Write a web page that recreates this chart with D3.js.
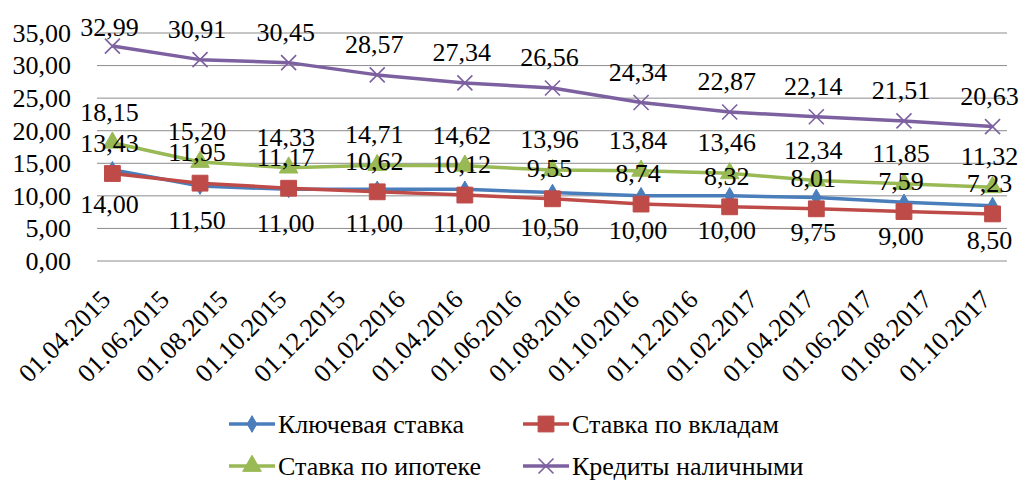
<!DOCTYPE html>
<html>
<head>
<meta charset="utf-8">
<script src="https://cdn.jsdelivr.net/npm/d3@7"></script>
<style>
  body { margin: 0; background: #fff; }
</style>
</head>
<body>
<div id="chart-area"></div>
<script>
// data
let dates = ["01.04.2015", "01.07.2015", "01.10.2015", "01.01.2016", "01.04.2016", "01.07.2016",
	"01.10.2016", "01.01.2017", "01.04.2017", "01.07.2017", "01.10.2017"];
let keyRate = [14.00, 11.50, 11.00, 11.00, 11.00, 10.50, 10.00, 10.00, 9.75, 9.00, 8.50];
let depositRate = [13.43, 11.95, 11.17, 10.62, 10.12, 9.55, 8.74, 8.32, 8.01, 7.59, 7.23];
let mortgageRate = [18.15, 15.20, 14.33, 14.71, 14.62, 13.96, 13.84, 13.46, 12.34, 11.85, 11.32];
let cashLoans = [32.99, 30.91, 30.45, 28.57, 27.34, 26.56, 24.34, 22.87, 22.14, 21.51, 20.63];
let seriesNames = ["Ключевая ставка", "Ставка по вкладам", "Ставка по ипотеке", "Кредиты наличными"];
let tickLabels = ["01.04.2015", "01.06.2015", "01.08.2015", "01.10.2015", "01.12.2015", "01.02.2016",
	"01.04.2016", "01.06.2016", "01.08.2016", "01.10.2016", "01.12.2016", "01.02.2017",
	"01.04.2017", "01.06.2017", "01.08.2017", "01.10.2017"];
let yTicks = [0, 5, 10, 15, 20, 25, 30, 35];

let width = 1025, height = 480;
let font = "'Liberation Serif'";
let parseDate = d3.timeParse("%d.%m.%Y");
let fmtNum = v => d3.format(".2f")(v).replace(".", ",");

let svg = d3.select("#chart-area").append("svg")
	.attr("width", width)
	.attr("height", height)
	.style("font-family", font);

// scales (half a month of padding on each side, like the Excel date axis)
let first = parseDate(dates[0]), last = parseDate(dates[dates.length - 1]);
let x = d3.scaleTime()
	.domain([d3.timeDay.offset(first, -16), d3.timeDay.offset(last, 15)])
	.range([97, 1007]);
let y = d3.scaleLinear()
	.domain([0, 35])
	.range([261, 33]);

// gridlines
svg.append("g")
	.selectAll("line")
	.data(yTicks)
	.enter().append("line")
	.attr("x1", x.range()[0]).attr("x2", x.range()[1])
	.attr("y1", d => y(d)).attr("y2", d => y(d))
	.attr("stroke", "#8c8c8c")
	.attr("stroke-width", 1);

// y axis
let yAxis = d3.axisLeft(y)
	.tickValues(yTicks)
	.tickSize(0)
	.tickPadding(0)
	.tickFormat(fmtNum);
svg.append("g")
	.attr("class", "y-axis")
	.attr("transform", "translate(71,0)")
	.call(yAxis)
	.call(g => g.select(".domain").remove())
	.selectAll("text")
	.style("font-family", font)
	.style("font-size", "26px")
	.attr("fill", "#000");

// x axis
let xAxis = d3.axisBottom(x)
	.tickValues(tickLabels.map(parseDate))
	.tickSize(0)
	.tickFormat(d3.timeFormat("%d.%m.%Y"));
svg.append("g")
	.attr("class", "x-axis")
	.attr("transform", "translate(0," + y(0) + ")")
	.call(xAxis)
	.call(g => g.select(".domain").remove())
	.selectAll("text")
	.style("font-family", font)
	.style("font-size", "26px")
	.attr("fill", "#000")
	.attr("text-anchor", "end")
	.attr("dy", "0")
	.attr("transform", "translate(-3,38) rotate(-45)");

// series
let series = [
	{name: seriesNames[0], values: keyRate, color: "#4A7EBB", marker: "diamond", off: 34},
	{name: seriesNames[1], values: depositRate, color: "#BE4B48", marker: "square", off: -31},
	{name: seriesNames[2], values: mortgageRate, color: "#98B954", marker: "triangle", off: -31},
	{name: seriesNames[3], values: cashLoans, color: "#7D60A0", marker: "x", off: -31}
];

function markerPath(type) {
	if (type === "diamond") return d3.symbol(d3.symbolDiamond, 80)();
	if (type === "square") return d3.symbol(d3.symbolSquare, 250)();
	if (type === "triangle") return d3.symbol(d3.symbolTriangle, 150)();
	return "M-7.5,-7.5L7.5,7.5M-7.5,7.5L7.5,-7.5";
}

function drawMarker(g, s) {
	let p = g.append("path").attr("d", markerPath(s.marker));
	if (s.marker === "x") {
		p.attr("fill", "none").attr("stroke", s.color).attr("stroke-width", 1.6);
	} else {
		p.attr("fill", s.color).attr("stroke", s.color).attr("stroke-width", 1);
	}
}

let line = d3.line()
	.x((d, i) => x(parseDate(dates[i])))
	.y(d => y(d));

series.forEach(s => {
	svg.append("path")
		.datum(s.values)
		.attr("fill", "none")
		.attr("stroke", s.color)
		.attr("stroke-width", 3.5)
		.attr("stroke-linejoin", "round")
		.attr("d", line);

	s.values.forEach((v, i) => {
		let g = svg.append("g")
			.attr("transform", "translate(" + x(parseDate(dates[i])) + "," + y(v) + ")");
		drawMarker(g, s);
	});
});

// data labels
series.forEach(s => {
	svg.append("g")
		.selectAll("text")
		.data(s.values)
		.enter().append("text")
		.attr("x", (d, i) => x(parseDate(dates[i])) - 3)
		.attr("y", d => Math.max(27, y(d) + s.off))
		.attr("dy", "0.35em")
		.attr("text-anchor", "middle")
		.style("font-family", font)
		.style("font-size", "26px")
		.attr("fill", "#000")
		.text(d => fmtNum(d));
});

// legend
let legendPos = [[229, 424], [523, 424], [229, 466], [523, 466]];
series.forEach((s, i) => {
	let g = svg.append("g")
		.attr("transform", "translate(" + legendPos[i][0] + "," + legendPos[i][1] + ")");
	g.append("line")
		.attr("x1", 0).attr("x2", 46)
		.attr("stroke", s.color)
		.attr("stroke-width", 3.5);
	let m = g.append("g").attr("transform", "translate(23,0)");
	drawMarker(m, s);
	g.append("text")
		.attr("x", 49)
		.attr("dy", "0.35em")
		.style("font-family", font)
		.style("font-size", "26px")
		.attr("fill", "#000")
		.text(s.name);
});
</script>
</body>
</html>
